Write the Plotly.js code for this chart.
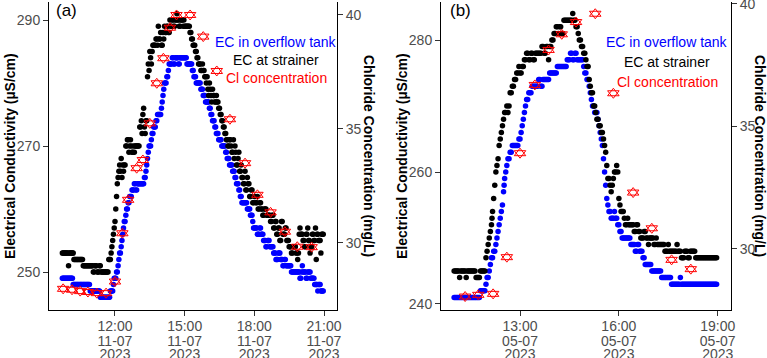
<!DOCTYPE html>
<html><head><meta charset="utf-8">
<script src="https://cdn.plot.ly/plotly-3.0.1.min.js"></script>
<style>html,body{margin:0;padding:0;background:#fff}#chart{width:767px;height:358px}</style>
</head><body><div id="chart"></div>
<script>
// ---------- DATA ----------
// EC logger readings, run-length: [start time, reading]; each reading holds until next start (logged every 2 min)
const dateA = '2023-07-11';
const dateB = '2023-07-05';
const sampleStepMin = 2;

const aStrainerRuns = [['09:44',253],['10:00',251],['10:02',253],['10:14',252],['10:38',251],['11:04',250],['11:08',251],['11:14',250],['11:20',251],['11:24',250],['11:44',252],['11:50',253],['11:52',254],['11:54',255],['11:56',256],['11:58',257],['12:00',258],['12:02',260],['12:04',262],['12:06',264],['12:08',265],['12:10',266],['12:12',267],['12:14',266],['12:16',268],['12:18',265],['12:20',267],['12:22',266],['12:24',267],['12:28',270],['12:32',271],['12:36',269],['12:38',270],['12:40',271],['12:42',270],['12:44',269],['12:48',270],['12:50',269],['12:52',270],['13:04',273],['13:08',274],['13:10',272],['13:12',275],['13:14',276],['13:16',273],['13:18',272],['13:20',274],['13:24',281],['13:26',283],['13:28',282],['13:30',285],['13:32',284],['13:34',283],['13:36',285],['13:38',286],['13:46',287],['13:50',286],['13:52',289],['13:54',287],['13:58',288],['14:00',286],['14:04',288],['14:06',287],['14:08',289],['14:10',288],['14:14',289],['14:18',288],['14:22',290],['14:24',289],['14:28',290],['14:32',289],['14:36',290],['14:40',291],['14:42',290],['14:46',289],['14:50',290],['14:56',289],['14:58',290],['15:00',289],['15:14',288],['15:18',287],['15:22',286],['15:28',285],['15:32',284],['15:36',283],['15:42',282],['15:46',283],['15:48',282],['15:52',281],['15:56',280],['15:58',281],['16:00',279],['16:02',278],['16:04',280],['16:06',279],['16:08',278],['16:10',277],['16:12',279],['16:14',278],['16:18',277],['16:22',278],['16:24',277],['16:28',276],['16:32',275],['16:36',274],['16:40',273],['16:44',272],['16:48',271],['16:52',270],['16:56',271],['17:00',270],['17:02',269],['17:06',271],['17:08',268],['17:10',270],['17:12',269],['17:14',267],['17:18',268],['17:20',269],['17:22',266],['17:26',267],['17:28',265],['17:32',264],['17:36',266],['17:38',263],['17:42',265],['17:44',264],['17:48',262],['17:52',263],['17:56',261],['18:00',262],['18:04',261],['18:08',262],['18:10',260],['18:14',261],['18:18',260],['18:22',259],['18:26',260],['18:32',259],['18:42',258],['18:46',259],['18:50',257],['18:54',258],['18:58',256],['19:02',257],['19:06',255],['19:10',258],['19:14',256],['19:20',257],['19:24',255],['19:30',254],['19:36',253],['19:40',254],['19:48',253],['19:52',252],['19:54',253],['19:56',256],['19:58',257],['20:00',256],['20:06',255],['20:10',254],['20:14',256],['20:18',257],['20:20',255],['20:24',253],['20:26',254],['20:30',256],['20:34',255],['20:38',257],['20:40',252],['20:42',256],['20:46',255],['20:52',253],['20:54',256]];
const aStrainerEnd = '21:00';

const aTankRuns = [['09:44',249],['10:12',248],['10:56',247],['11:22',246],['11:48',247],['11:56',248],['11:58',249],['12:04',250],['12:08',251],['12:10',252],['12:12',253],['12:16',254],['12:18',255],['12:20',256],['12:22',257],['12:24',258],['12:28',259],['12:30',260],['12:34',261],['12:38',262],['12:44',263],['12:50',264],['12:54',263],['12:58',264],['13:16',265],['13:20',266],['13:22',267],['13:24',268],['13:26',269],['13:28',270],['13:34',271],['13:36',272],['13:40',273],['13:46',274],['13:50',275],['14:00',276],['14:02',277],['14:04',278],['14:06',279],['14:08',280],['14:14',281],['14:18',282],['14:20',283],['14:28',284],['14:32',283],['14:36',284],['14:44',283],['14:48',284],['15:06',283],['15:20',282],['15:24',281],['15:30',280],['15:42',279],['15:48',278],['15:54',277],['16:04',276],['16:08',275],['16:12',274],['16:18',273],['16:22',272],['16:28',271],['16:36',270],['16:46',269],['16:50',268],['16:56',267],['17:04',266],['17:10',265],['17:14',264],['17:20',263],['17:24',262],['17:28',261],['17:42',260],['17:50',259],['17:56',258],['17:58',257],['18:08',256],['18:14',257],['18:18',256],['18:24',255],['18:30',254],['18:34',255],['18:40',254],['18:50',253],['18:56',252],['19:02',253],['19:08',252],['19:14',251],['19:18',252],['19:22',251],['19:36',250],['19:58',249],['20:02',250],['20:04',251],['20:06',250],['20:14',249],['20:18',250],['20:26',249],['20:36',248],['20:44',247],['20:46',248],['20:52',247]];
const aTankEnd = '21:00';

const aClTimes = ['09:46','10:09','10:30','10:50','11:13','11:37','12:00','12:19','12:34','12:56','13:12','13:30','13:48','14:05','14:22','14:39','15:14','15:48','16:23','16:57','17:36','18:08','18:42','19:19','19:51','20:28'];
const aClValues = [27.97,27.93,27.87,27.83,27.78,27.78,28.29,30.41,31.88,33.27,33.63,35.24,37.0,38.1,39.44,40.0,40.0,39.05,37.54,35.42,33.49,32.1,31.33,30.48,29.82,29.8];

const bStrainerRuns = [['11:00',245],['11:10',244],['11:12',245],['11:22',244],['11:24',245],['11:40',244],['11:48',245],['11:58',247],['12:00',248],['12:02',249],['12:04',250],['12:06',251],['12:08',252],['12:09',253],['12:10',254],['12:12',256],['12:14',258],['12:16',260],['12:18',261],['12:20',262],['12:22',264],['12:24',265],['12:26',266],['12:28',267],['12:30',268],['12:32',269],['12:36',270],['12:38',269],['12:40',270],['12:42',272],['12:46',273],['12:50',274],['12:54',275],['12:58',276],['13:00',275],['13:04',276],['13:08',277],['13:12',278],['13:16',277],['13:20',278],['13:24',277],['13:28',278],['13:40',279],['13:44',278],['13:48',279],['13:52',277],['13:54',279],['13:58',280],['14:02',281],['14:06',282],['14:10',281],['14:12',282],['14:16',281],['14:20',283],['14:36',284],['14:38',283],['14:42',282],['14:46',281],['14:48',280],['14:52',279],['14:56',278],['15:00',277],['15:02',276],['15:06',274],['15:08',273],['15:10',272],['15:14',270],['15:18',269],['15:20',268],['15:24',267],['15:28',266],['15:32',265],['15:34',264],['15:36',263],['15:38',261],['15:40',259],['15:44',258],['15:46',257],['15:48',258],['15:50',259],['15:52',260],['15:56',261],['15:58',260],['16:00',256],['16:02',255],['16:04',254],['16:10',253],['16:12',252],['16:16',253],['16:18',252],['16:28',251],['16:32',252],['16:36',251],['16:40',250],['16:46',251],['16:50',250],['16:54',249],['16:56',250],['17:04',249],['17:08',250],['17:10',249],['17:24',248],['17:30',249],['17:32',248],['17:46',249],['17:48',248],['17:54',247],['18:00',248],['18:06',247],['18:10',248],['18:20',247]];
const bStrainerEnd = '19:00';

const bTankRuns = [['11:00',241],['11:48',242],['11:58',243],['12:00',244],['12:04',245],['12:06',246],['12:08',247],['12:12',248],['12:16',249],['12:18',250],['12:20',251],['12:22',252],['12:24',253],['12:26',254],['12:28',255],['12:30',257],['12:31',258],['12:32',259],['12:34',260],['12:36',261],['12:38',262],['12:42',263],['12:46',264],['12:58',265],['13:02',266],['13:04',267],['13:06',268],['13:08',269],['13:10',270],['13:12',271],['13:16',272],['13:22',273],['13:34',274],['13:38',273],['13:42',274],['13:54',275],['14:08',276],['14:26',277],['14:32',278],['14:36',277],['14:40',278],['14:44',277],['14:56',276],['14:58',275],['15:02',274],['15:06',273],['15:08',272],['15:10',271],['15:12',270],['15:16',269],['15:22',268],['15:24',267],['15:26',266],['15:28',265],['15:30',264],['15:32',262],['15:34',260],['15:36',258],['15:38',256],['15:40',255],['15:42',254],['15:46',253],['15:52',254],['15:54',253],['15:58',252],['16:02',251],['16:06',250],['16:22',249],['16:30',248],['16:34',249],['16:38',248],['16:44',247],['16:48',246],['17:00',245],['17:18',244],['17:36',243],['17:52',244],['17:54',243]];
const bTankEnd = '19:00';

const bClTimes = ['11:20','11:44','12:11','12:36','13:00','13:27','13:52','14:16','14:42','15:17','15:50','16:26','17:00','17:36','18:11'];
const bClValues = [28.04,28.11,28.15,29.65,33.9,36.69,38.12,38.76,39.26,39.6,36.35,32.29,30.83,29.54,29.16];

const legendLabels = ['EC in overflow tank','EC at strainer','Cl concentration'];
const panelTags = ['(a)','(b)'];
const ecTitle = 'Electrical Conductivity (µS/cm)';
const clTitle = 'Chloride Concentration (mg/L)';

// ---------- helpers ----------
function toMin(s){const p=s.split(':').map(Number);return p[0]*60+p[1];}
function stamp(date,m){const h=Math.floor(m/60),mm=m%60;return date+' '+String(h).padStart(2,'0')+':'+String(mm).padStart(2,'0');}
function expand(date,runs,end){
  const x=[],y=[];
  for(let i=0;i<runs.length;i++){
    const a=toMin(runs[i][0]), b=toMin(i+1<runs.length?runs[i+1][0]:end);
    for(let t=a;t<b;t+=sampleStepMin){x.push(stamp(date,t));y.push(runs[i][1]);}
  }
  return {x,y};
}
const W=767,H=358;
const px=v=>v/W, py=v=>1-v/H;
const F='"Liberation Sans", Arial, sans-serif';
const BLUE='#0000FF', RED='#FF0000';

const aS=expand(dateA,aStrainerRuns,aStrainerEnd), aT=expand(dateA,aTankRuns,aTankEnd);
const bS=expand(dateB,bStrainerRuns,bStrainerEnd), bT=expand(dateB,bTankRuns,bTankEnd);

const dot=(c)=>({color:c,size:5.5,line:{width:0}});
const tri=(s)=>({symbol:s,size:10,color:RED,line:{width:1,color:RED}});
function clTraces(date,times,vals,xa,ya){
  const x=times.map(t=>date+' '+t);
  return ['triangle-up-open','triangle-down-open'].map(s=>({x:x,y:vals,xaxis:xa,yaxis:ya,type:'scatter',mode:'markers',marker:tri(s)}));
}
const ghost=(xa,ya,d)=>({x:[d+' 12:00'],y:[null],xaxis:xa,yaxis:ya,type:'scatter',mode:'markers',marker:{size:1,opacity:0}});

const traces=[
  {x:aT.x,y:aT.y,xaxis:'x',yaxis:'y',type:'scatter',mode:'markers',marker:dot(BLUE)},
  {x:aS.x,y:aS.y,xaxis:'x',yaxis:'y',type:'scatter',mode:'markers',marker:dot('#000000')},
  ...clTraces(dateA,aClTimes,aClValues,'x','y2'),
  {x:bT.x,y:bT.y,xaxis:'x2',yaxis:'y3',type:'scatter',mode:'markers',marker:dot(BLUE)},
  {x:bS.x,y:bS.y,xaxis:'x2',yaxis:'y3',type:'scatter',mode:'markers',marker:dot('#000000')},
  ...clTraces(dateB,bClTimes,bClValues,'x2','y4'),
  ghost('x3','y',dateA),ghost('x4','y',dateA),ghost('x5','y3',dateB),ghost('x6','y3',dateB)
];

const base={showgrid:false,zeroline:false,showline:true,linecolor:'#000',linewidth:1,ticks:'outside',ticklen:5,tickcolor:'#333',tickwidth:1,
  tickfont:{family:F,size:14,color:'#4D4D4D'},fixedrange:true,ticklabeloverflow:'allow'};
const yDom=[py(310),py(2)];
const rangeA=[dateA+' 09:09:30',dateA+' 21:33:36'];
const rangeB=[dateB+' 10:36:06',dateB+' 19:24:12'];
const H3=3*3600*1000;

function dateLine(over,anchor,range,tick0,fmt,standoff){
  return {overlaying:over,anchor:anchor,side:'bottom',type:'date',range:range,tick0:tick0,dtick:H3,tickformat:fmt,
    showgrid:false,zeroline:false,showline:false,ticks:'outside',ticklen:5,tickcolor:'rgba(0,0,0,0)',
    tickfont:{family:F,size:14,color:'#4D4D4D'},ticklabelstandoff:standoff,fixedrange:true,ticklabeloverflow:'allow'};
}

const layout={
  width:W,height:H,margin:{l:0,r:0,t:0,b:0},paper_bgcolor:'#fff',plot_bgcolor:'rgba(0,0,0,0)',showlegend:false,
  xaxis:Object.assign({},base,{domain:[px(49),px(337)],anchor:'y',type:'date',range:rangeA,tick0:dateA+' 00:00',dtick:H3,tickformat:'%H:%M',ticklabelstandoff:-2}),
  yaxis:Object.assign({},base,{domain:yDom,anchor:'x',range:[243.97,292.86],tick0:250,dtick:20}),
  yaxis2:Object.assign({},base,{overlaying:'y',side:'right',anchor:'x',range:[27.04,40.57],tick0:30,dtick:5}),
  xaxis2:Object.assign({},base,{domain:[px(441),px(731)],anchor:'y3',type:'date',range:rangeB,tick0:dateB+' 01:00',dtick:H3,tickformat:'%H:%M',ticklabelstandoff:-2}),
  yaxis3:Object.assign({},base,{domain:yDom,anchor:'x2',range:[239.09,285.76],tick0:240,dtick:20}),
  yaxis4:Object.assign({},base,{overlaying:'y3',side:'right',anchor:'x2',range:[27.49,40.08],tick0:30,dtick:5}),
  xaxis3:dateLine('x','y',rangeA,dateA+' 00:00','%d-%m',13),
  xaxis4:dateLine('x','y',rangeA,dateA+' 00:00','%Y',26),
  xaxis5:dateLine('x2','y3',rangeB,dateB+' 01:00','%d-%m',13),
  xaxis6:dateLine('x2','y3',rangeB,dateB+' 01:00','%Y',26),
  annotations:[
    {text:ecTitle,xref:'paper',yref:'paper',x:px(10),y:py(156),textangle:-90,showarrow:false,xanchor:'center',yanchor:'middle',font:{family:F,size:14,color:'#000',weight:'bold'}},
    {text:clTitle,xref:'paper',yref:'paper',x:px(369),y:py(156),textangle:90,showarrow:false,xanchor:'center',yanchor:'middle',font:{family:F,size:14,color:'#000',weight:'bold'}},
    {text:ecTitle,xref:'paper',yref:'paper',x:px(402),y:py(156),textangle:-90,showarrow:false,xanchor:'center',yanchor:'middle',font:{family:F,size:14,color:'#000',weight:'bold'}},
    {text:clTitle,xref:'paper',yref:'paper',x:px(760),y:py(156),textangle:90,showarrow:false,xanchor:'center',yanchor:'middle',font:{family:F,size:14,color:'#000',weight:'bold'}},
    {text:panelTags[0],xref:'paper',yref:'paper',x:px(66.5),y:py(10.5),showarrow:false,xanchor:'center',yanchor:'middle',font:{family:F,size:17,color:'#000'}},
    {text:panelTags[1],xref:'paper',yref:'paper',x:px(460),y:py(10.5),showarrow:false,xanchor:'center',yanchor:'middle',font:{family:F,size:17,color:'#000'}},
    {text:legendLabels[0],xref:'paper',yref:'paper',x:px(276),y:py(41.5),showarrow:false,xanchor:'center',yanchor:'middle',font:{family:F,size:14,color:BLUE}},
    {text:legendLabels[1],xref:'paper',yref:'paper',x:px(276),y:py(60.5),showarrow:false,xanchor:'center',yanchor:'middle',font:{family:F,size:14,color:'#000'}},
    {text:legendLabels[2],xref:'paper',yref:'paper',x:px(276),y:py(78.5),showarrow:false,xanchor:'center',yanchor:'middle',font:{family:F,size:14,color:RED}},
    {text:legendLabels[0],xref:'paper',yref:'paper',x:px(667),y:py(42),showarrow:false,xanchor:'center',yanchor:'middle',font:{family:F,size:14,color:BLUE}},
    {text:legendLabels[1],xref:'paper',yref:'paper',x:px(667),y:py(62),showarrow:false,xanchor:'center',yanchor:'middle',font:{family:F,size:14,color:'#000'}},
    {text:legendLabels[2],xref:'paper',yref:'paper',x:px(667),y:py(81.5),showarrow:false,xanchor:'center',yanchor:'middle',font:{family:F,size:14,color:RED}}
  ]
};
Plotly.newPlot('chart',traces,layout,{staticPlot:true,displayModeBar:false});
</script></body></html>
